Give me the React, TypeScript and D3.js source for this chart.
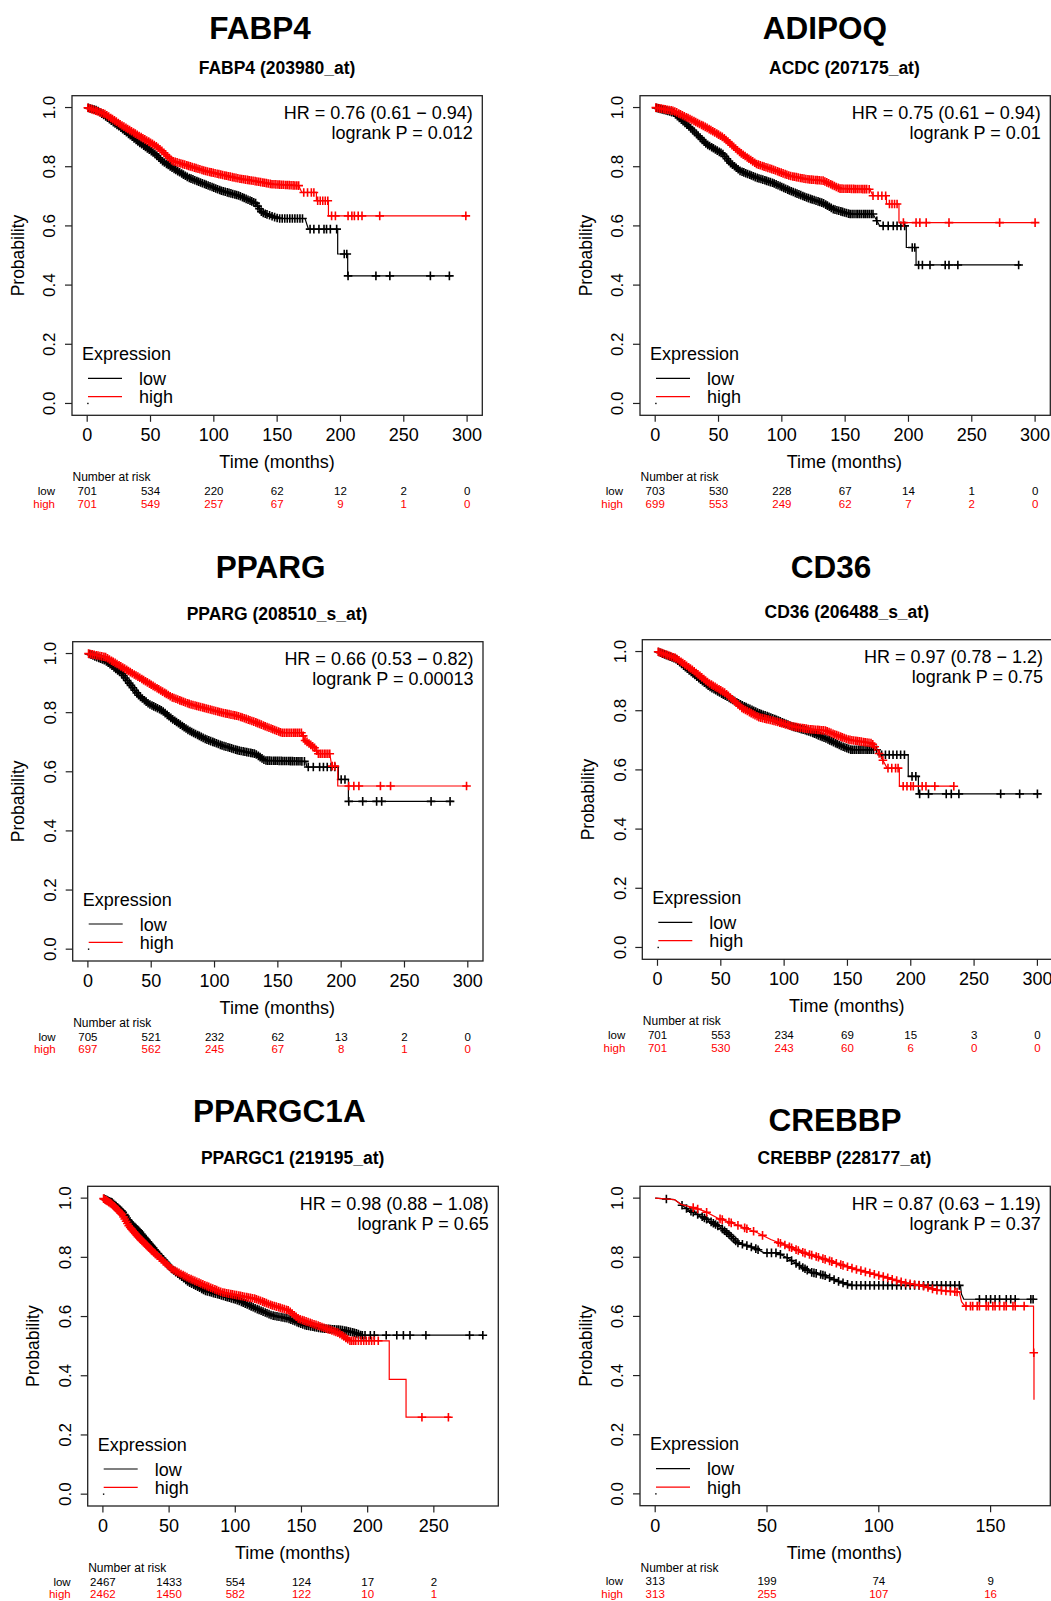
import React from 'react';
import * as d3 from 'd3';

type Pt = [number, number];

const FONT = "'Liberation Sans', Arial, Helvetica, sans-serif";
const LOW_COLOR = '#000000';
const HIGH_COLOR = '#ff0000';

// panel headings
const genes = ['FABP4', 'ADIPOQ', 'PPARG', 'CD36', 'PPARGC1A', 'CREBBP'];
const probes = ['FABP4 (203980_at)', 'ACDC (207175_at)', 'PPARG (208510_s_at)', 'CD36 (206488_s_at)', 'PPARGC1 (219195_at)', 'CREBBP (228177_at)'];
const hrLabels = ['HR = 0.76 (0.61 \u2212 0.94)', 'HR = 0.75 (0.61 \u2212 0.94)', 'HR = 0.66 (0.53 \u2212 0.82)', 'HR = 0.97 (0.78 \u2212 1.2)', 'HR = 0.98 (0.88 \u2212 1.08)', 'HR = 0.87 (0.63 \u2212 1.19)'];
const pLabels = ['logrank P = 0.012', 'logrank P = 0.01', 'logrank P = 0.00013', 'logrank P = 0.75', 'logrank P = 0.65', 'logrank P = 0.37'];

// x axis ticks (months)
const ticks300 = [0, 50, 100, 150, 200, 250, 300];
const ticks250 = [0, 50, 100, 150, 200, 250];
const ticks150 = [0, 50, 100, 150];
const yTicks = [0, 0.2, 0.4, 0.6, 0.8, 1.0];

// ---- FABP4 ----
const fabp4Low: Pt[] = [[0, 1], [8, 0.99], [14, 0.972], [28, 0.927], [41, 0.882], [54, 0.842], [59, 0.82], [67, 0.797], [80, 0.763], [93, 0.741], [106, 0.719], [120, 0.702], [133, 0.677], [138, 0.645], [151, 0.625], [172, 0.625], [174.7, 0.589], [197.8, 0.589], [197.8, 0.505], [205.7, 0.505], [205.7, 0.431], [287.6, 0.431]];
const fabp4High: Pt[] = [[0, 1], [14, 0.978], [28, 0.938], [41, 0.904], [54, 0.871], [59, 0.854], [67, 0.82], [80, 0.803], [93, 0.786], [106, 0.773], [120, 0.76], [133, 0.751], [146, 0.741], [167, 0.736], [169.5, 0.713], [181, 0.713], [181, 0.685], [190.5, 0.685], [190.5, 0.634], [300, 0.634]];
const fabp4LowCens = [1, 2.5, 4, 5.5, 7, 8.6, 10, 11.5, 13, 14.6, 16, 17.5, 19, 20.6, 22, 23.5, 25, 26.6, 28, 29.5, 31, 32.6, 34, 35.5, 37, 38.6, 40, 41.5, 43, 44.6, 46, 47.5, 49, 50.6, 52, 53.5, 55, 56.6, 58, 59.5, 61, 62.6, 64, 65.5, 67, 68.6, 70, 71.5, 73, 74.6, 76, 77.5, 79, 80.6, 82, 83.5, 85, 86.6, 88, 89.5, 91, 92.6, 94, 95.5, 97, 98.6, 100, 101.5, 103, 104.6, 106, 107.5, 109, 110.6, 112, 113.5, 115, 116.6, 118, 119.5, 121, 122.6, 124, 125.5, 127, 128.6, 130, 131.5, 133, 134.6, 136, 137.5, 139, 140.6, 142, 144, 146, 148, 150, 152, 154, 156, 158, 160, 162, 164, 166, 168, 170, 176, 179, 183, 187, 189, 192, 197, 203, 205, 206, 228, 239, 271, 286];
const fabp4HighCens = [0.5, 2, 3.5, 5, 6.6, 8, 9.5, 11, 12.6, 14, 15.5, 17, 18.6, 20, 21.5, 23, 24.6, 26, 27.5, 29, 30.6, 32, 33.5, 35, 36.6, 38, 39.5, 41, 42.6, 44, 45.5, 47, 48.6, 50, 51.5, 53, 54.6, 56, 57.5, 59, 60.6, 62, 63.5, 65, 66.6, 68, 69.5, 71, 72.6, 74, 75.5, 77, 78.6, 80, 81.5, 83, 84.6, 86, 87.5, 89, 90.6, 92, 93.5, 95, 96.6, 98, 99.5, 101, 102.6, 104, 105.5, 107, 108.6, 110, 111.5, 113, 114.6, 116, 117.5, 119, 120.6, 122, 123.5, 125, 126.6, 128, 129.5, 131, 132.6, 134, 135.5, 137, 138.6, 140, 141.5, 143, 144.6, 146, 147.5, 149, 150.6, 152, 153.5, 155, 156.6, 158, 159.5, 161, 162.6, 164, 165.5, 167, 171, 174, 177, 179, 182, 184, 186, 188, 190, 193, 196, 206, 209, 211, 214, 217, 231, 299];
const fabp4RiskLow = [701, 534, 220, 62, 12, 2, 0];
const fabp4RiskHigh = [701, 549, 257, 67, 9, 1, 0];

// ---- ADIPOQ ----
const adipoqLow: Pt[] = [[0, 1], [14.4, 0.983], [27.6, 0.932], [40.7, 0.876], [53.8, 0.842], [59, 0.814], [67, 0.786], [80.1, 0.763], [93.2, 0.745], [106.4, 0.719], [119.5, 0.696], [132.6, 0.677], [140.5, 0.657], [153.7, 0.64], [172, 0.64], [177.3, 0.6], [198.3, 0.6], [198.3, 0.527], [206, 0.527], [206, 0.468], [289, 0.468]];
const adipoqHigh: Pt[] = [[0, 1], [14.4, 0.989], [27.6, 0.961], [40.7, 0.932], [53.8, 0.899], [67, 0.848], [80.1, 0.809], [93.2, 0.79], [106.4, 0.769], [119.5, 0.758], [132.6, 0.753], [145.8, 0.726], [169.4, 0.724], [172, 0.702], [182.6, 0.702], [182.6, 0.674], [192.5, 0.674], [192.5, 0.611], [300, 0.611]];
const adipoqLowCens = [1, 2.5, 4, 5.5, 7, 8.6, 10, 11.5, 13, 14.6, 16, 17.5, 19, 20.6, 22, 23.5, 25, 26.6, 28, 29.5, 31, 32.6, 34, 35.5, 37, 38.6, 40, 41.5, 43, 44.6, 46, 47.5, 49, 50.6, 52, 53.5, 55, 56.6, 58, 59.5, 61, 62.6, 64, 65.5, 67, 68.6, 70, 71.5, 73, 74.6, 76, 77.5, 79, 80.6, 82, 83.5, 85, 86.6, 88, 89.5, 91, 92.6, 94, 95.5, 97, 98.6, 100, 101.5, 103, 104.6, 106, 107.5, 109, 110.6, 112, 113.5, 115, 116.6, 118, 119.5, 121, 122.6, 124, 125.5, 127, 128.6, 130, 131.5, 133, 134.6, 136, 137.5, 139, 140.6, 142, 143.5, 145, 146.6, 148, 149.5, 151, 152.6, 154, 155.5, 157, 158.6, 160, 161.5, 163, 164.6, 166, 167.5, 169, 170.6, 172, 175, 180, 184, 188, 191, 194, 197, 203, 205, 208, 211, 217, 229, 232, 239, 287];
const adipoqHighCens = [0.5, 2, 3.5, 5, 6.6, 8, 9.5, 11, 12.6, 14, 15.5, 17, 18.6, 20, 21.5, 23, 24.6, 26, 27.5, 29, 30.6, 32, 33.5, 35, 36.6, 38, 39.5, 41, 42.6, 44, 45.5, 47, 48.6, 50, 51.5, 53, 54.6, 56, 57.5, 59, 60.6, 62, 63.5, 65, 66.6, 68, 69.5, 71, 72.6, 74, 75.5, 77, 78.6, 80, 81.5, 83, 84.6, 86, 87.5, 89, 90.6, 92, 93.5, 95, 96.6, 98, 99.5, 101, 102.6, 104, 105.5, 107, 108.6, 110, 111.5, 113, 114.6, 116, 117.5, 119, 120.6, 122, 123.5, 125, 126.6, 128, 129.5, 131, 132.6, 134, 135.5, 137, 138.6, 140, 141.5, 143, 144.6, 146, 147.5, 149, 150.6, 152, 153.5, 155, 156.6, 158, 159.5, 161, 162.6, 164, 165.5, 167, 169, 172, 176, 179, 182, 185, 187, 189, 191, 196, 206, 209, 214, 232, 272, 300];
const adipoqRiskLow = [703, 530, 228, 67, 14, 1, 0];
const adipoqRiskHigh = [699, 553, 249, 62, 7, 2, 0];

// ---- PPARG ----
const ppargLow: Pt[] = [[0, 1], [13.9, 0.976], [27, 0.931], [40.2, 0.858], [48, 0.83], [58.6, 0.807], [66.4, 0.779], [79.6, 0.74], [92.7, 0.711], [105.9, 0.689], [119, 0.672], [132.1, 0.661], [140, 0.638], [172, 0.635], [172.9, 0.616], [197.8, 0.616], [197.8, 0.574], [205.7, 0.574], [205.7, 0.5], [288.5, 0.5]];
const ppargHigh: Pt[] = [[0, 1], [13.9, 0.988], [27, 0.954], [40.2, 0.92], [53.3, 0.886], [66.4, 0.852], [79.6, 0.83], [92.7, 0.815], [105.9, 0.8], [119, 0.788], [132.1, 0.768], [145.3, 0.745], [153, 0.732], [169, 0.732], [171.5, 0.706], [179.4, 0.68], [182, 0.661], [191, 0.661], [192.6, 0.619], [197.3, 0.619], [197.3, 0.552], [300, 0.552]];
const ppargLowCens = [1, 2.5, 4, 5.5, 7, 8.6, 10, 11.5, 13, 14.6, 16, 17.5, 19, 20.6, 22, 23.5, 25, 26.6, 28, 29.5, 31, 32.6, 34, 35.5, 37, 38.6, 40, 41.5, 43, 44.6, 46, 47.5, 49, 50.6, 52, 53.5, 55, 56.6, 58, 59.5, 61, 62.6, 64, 65.5, 67, 68.6, 70, 71.5, 73, 74.6, 76, 77.5, 79, 80.6, 82, 83.5, 85, 86.6, 88, 89.5, 91, 92.6, 94, 95.5, 97, 98.6, 100, 101.5, 103, 104.6, 106, 107.5, 109, 110.6, 112, 113.5, 115, 116.6, 118, 119.5, 121, 122.6, 124, 125.5, 127, 128.6, 130, 131.5, 133, 134.6, 136, 137.5, 139, 140.6, 142, 143.5, 145, 146.6, 148, 149.5, 151, 152.6, 154, 155.5, 157, 158.6, 160, 161.5, 163, 164.6, 166, 167.5, 169, 171, 174, 178, 183, 186, 189, 192, 195, 200, 203, 206, 217, 228, 232, 271, 286];
const ppargHighCens = [0.5, 2, 3.5, 5, 6.6, 8, 9.5, 11, 12.6, 14, 15.5, 17, 18.6, 20, 21.5, 23, 24.6, 26, 27.5, 29, 30.6, 32, 33.5, 35, 36.6, 38, 39.5, 41, 42.6, 44, 45.5, 47, 48.6, 50, 51.5, 53, 54.6, 56, 57.5, 59, 60.6, 62, 63.5, 65, 66.6, 68, 69.5, 71, 72.6, 74, 75.5, 77, 78.6, 80, 81.5, 83, 84.6, 86, 87.5, 89, 90.6, 92, 93.5, 95, 96.6, 98, 99.5, 101, 102.6, 104, 105.5, 107, 108.6, 110, 111.5, 113, 114.6, 116, 117.5, 119, 120.6, 122, 123.5, 125, 126.6, 128, 129.5, 131, 132.6, 134, 135.5, 137, 138.6, 140, 141.5, 143, 144.6, 146, 147.5, 149, 150.6, 152, 153.5, 155, 156.6, 158, 159.5, 161, 162.6, 164, 165.5, 167, 168.6, 170, 171.5, 173, 174.6, 176, 177.5, 179, 180.6, 182, 183.5, 185, 186.6, 188, 189.5, 191, 193, 195, 206, 210, 214, 231, 239, 299];
const ppargRiskLow = [705, 521, 232, 62, 13, 2, 0];
const ppargRiskHigh = [697, 562, 245, 67, 8, 1, 0];

// ---- CD36 ----
const cd36Low: Pt[] = [[0, 1], [14.4, 0.975], [27.6, 0.927], [40.7, 0.882], [53.8, 0.85], [67, 0.818], [80.1, 0.792], [93.2, 0.771], [106.4, 0.747], [119.5, 0.73], [132.6, 0.707], [146, 0.679], [153, 0.668], [175, 0.668], [176, 0.651], [198, 0.651], [198, 0.578], [206, 0.578], [206, 0.519], [300, 0.519]];
const cd36High: Pt[] = [[0, 1], [14.4, 0.978], [27.6, 0.938], [40.7, 0.893], [53.8, 0.859], [67, 0.808], [80.1, 0.778], [93.2, 0.764], [106.4, 0.747], [119.5, 0.738], [132.6, 0.733], [140.5, 0.719], [151, 0.702], [169.4, 0.69], [173.4, 0.668], [177.3, 0.638], [181.3, 0.606], [191, 0.606], [191, 0.545], [234, 0.545]];
const cd36LowCens = [1, 2.5, 4, 5.5, 7, 8.6, 10, 11.5, 13, 14.6, 16, 17.5, 19, 20.6, 22, 23.5, 25, 26.6, 28, 29.5, 31, 32.6, 34, 35.5, 37, 38.6, 40, 41.5, 43, 44.6, 46, 47.5, 49, 50.6, 52, 53.5, 55, 56.6, 58, 59.5, 61, 62.6, 64, 65.5, 67, 68.6, 70, 71.5, 73, 74.6, 76, 77.5, 79, 80.6, 82, 83.5, 85, 86.6, 88, 89.5, 91, 92.6, 94, 95.5, 97, 98.6, 100, 101.5, 103, 104.6, 106, 107.5, 109, 110.6, 112, 113.5, 115, 116.6, 118, 119.5, 121, 122.6, 124, 125.5, 127, 128.6, 130, 131.5, 133, 134.6, 136, 137.5, 139, 140.6, 142, 143.5, 145, 146.6, 148, 149.5, 151, 152.6, 154, 155.5, 157, 158.6, 160, 161.5, 163, 164.6, 166, 167.5, 169, 170.6, 173, 177, 180, 183, 186, 189, 192, 195, 201, 204, 207, 214, 228, 232, 238, 271, 286, 300];
const cd36HighCens = [0.5, 2, 3.5, 5, 6.6, 8, 9.5, 11, 12.6, 14, 15.5, 17, 18.6, 20, 21.5, 23, 24.6, 26, 27.5, 29, 30.6, 32, 33.5, 35, 36.6, 38, 39.5, 41, 42.6, 44, 45.5, 47, 48.6, 50, 51.5, 53, 54.6, 56, 57.5, 59, 60.6, 62, 63.5, 65, 66.6, 68, 69.5, 71, 72.6, 74, 75.5, 77, 78.6, 80, 81.5, 83, 84.6, 86, 87.5, 89, 90.6, 92, 93.5, 95, 96.6, 98, 99.5, 101, 102.6, 104, 105.5, 107, 108.6, 110, 111.5, 113, 114.6, 116, 117.5, 119, 120.6, 122, 123.5, 125, 126.6, 128, 129.5, 131, 132.6, 134, 135.5, 137, 138.6, 140, 141.5, 143, 144.6, 146, 147.5, 149, 150.6, 152, 153.5, 155, 156.6, 158, 159.5, 161, 162.6, 164, 165.5, 167, 168.6, 170, 171.5, 175, 178, 182, 185, 188, 190, 194, 197, 200, 202, 209, 212, 219, 234];
const cd36RiskLow = [701, 553, 234, 69, 15, 3, 0];
const cd36RiskHigh = [701, 530, 243, 60, 6, 0, 0];

// ---- PPARGC1A ----
const pgcLow: Pt[] = [[0, 1], [7, 0.985], [14.5, 0.955], [20, 0.92], [27.1, 0.889], [39.7, 0.822], [52.2, 0.76], [64.8, 0.716], [77.4, 0.687], [89.9, 0.671], [102.5, 0.654], [115.1, 0.628], [127.6, 0.604], [140.2, 0.593], [152.8, 0.57], [165.3, 0.56], [180.4, 0.555], [190.5, 0.545], [195, 0.537], [287.2, 0.537]];
const pgcHigh: Pt[] = [[0, 1], [7, 0.979], [14.5, 0.945], [19.6, 0.906], [27.1, 0.867], [39.7, 0.811], [52.2, 0.76], [64.8, 0.73], [77.4, 0.705], [89.9, 0.682], [102.5, 0.671], [115.1, 0.66], [127.6, 0.638], [140.2, 0.621], [147.7, 0.593], [165.3, 0.565], [177.9, 0.545], [186.7, 0.518], [216.3, 0.518], [216.3, 0.388], [229, 0.388], [229, 0.26], [262.8, 0.26]];
const pgcLowCens = [1, 2, 3, 4, 5, 6.2, 7, 8, 9, 10, 11.2, 12, 13, 14, 15, 16.2, 17, 18, 19, 20, 21.2, 22, 23, 24, 25, 26.2, 27, 28, 29, 30, 31.2, 32, 33, 34, 35, 36.2, 37, 38, 39, 40, 41.5, 43, 44.6, 46, 47.5, 49, 50.6, 52, 53.5, 55, 56.6, 58, 59.5, 61, 62.6, 64, 65.5, 67, 68.6, 70, 71.5, 73, 74.6, 76, 77.5, 79, 80.6, 82, 83.5, 85, 86.6, 88, 89.5, 91, 92.6, 94, 95.5, 97, 98.6, 100, 101.5, 103, 104.6, 106, 107.5, 109, 110.6, 112, 113.5, 115, 116.6, 118, 119.5, 121, 122.6, 124, 125.5, 127, 128.6, 130, 131.5, 133, 134.6, 136, 137.5, 139, 140.6, 142, 143.5, 145, 146.6, 148, 149.5, 151, 152.6, 154, 155.5, 157, 158.6, 160, 161.5, 163, 164.6, 166, 167.5, 169, 170.6, 172, 173.5, 175, 176.6, 178, 179.5, 181, 182.6, 184, 185.5, 187, 188.6, 190, 191.5, 193, 194.6, 196, 198, 202, 205, 214, 222, 227, 232, 244, 277, 287];
const pgcHighCens = [0.5, 1.5, 2.5, 3.5, 4.5, 5.6, 6.5, 7.5, 8.5, 9.5, 10.6, 11.5, 12.5, 13.5, 14.5, 15.6, 16.5, 17.5, 18.5, 19.5, 20.6, 21.5, 22.5, 23.5, 24.5, 25.6, 26.5, 27.5, 28.5, 29.5, 30.6, 31.5, 32.5, 33.5, 34.5, 35.6, 36.5, 37.5, 38.5, 39.5, 41, 42.6, 44, 45.5, 47, 48.6, 50, 51.5, 53, 54.6, 56, 57.5, 59, 60.6, 62, 63.5, 65, 66.6, 68, 69.5, 71, 72.6, 74, 75.5, 77, 78.6, 80, 81.5, 83, 84.6, 86, 87.5, 89, 90.6, 92, 93.5, 95, 96.6, 98, 99.5, 101, 102.6, 104, 105.5, 107, 108.6, 110, 111.5, 113, 114.6, 116, 117.5, 119, 120.6, 122, 123.5, 125, 126.6, 128, 129.5, 131, 132.6, 134, 135.5, 137, 138.6, 140, 141.5, 143, 144.6, 146, 147.5, 149, 150.6, 152, 153.5, 155, 156.6, 158, 159.5, 161, 162.6, 164, 165.5, 167, 168.6, 170, 171.5, 173, 174.6, 176, 177.5, 179, 180.6, 182, 183.5, 185, 186.6, 188, 189.5, 191, 193, 195, 197, 199, 201, 203, 205, 208, 241, 261];
const pgcRiskLow = [2467, 1433, 554, 124, 17, 2];
const pgcRiskHigh = [2462, 1450, 582, 122, 10, 1];

// ---- CREBBP ----
const crebbpLow: Pt[] = [[0, 1], [8.6, 0.995], [11.5, 0.979], [14.5, 0.962], [22, 0.933], [29.4, 0.9], [33.8, 0.872], [36.8, 0.849], [44.3, 0.832], [48.7, 0.815], [54.6, 0.815], [59.1, 0.798], [63.6, 0.776], [69.5, 0.75], [75.5, 0.739], [81.4, 0.72], [87.4, 0.705], [136.5, 0.705], [137, 0.675], [138, 0.658], [169.9, 0.658]];
const crebbpHigh: Pt[] = [[0, 1], [8.6, 0.995], [11.5, 0.979], [17.5, 0.967], [22, 0.956], [27.9, 0.933], [33.8, 0.917], [39.8, 0.9], [45.7, 0.883], [51.7, 0.86], [59.1, 0.838], [66.6, 0.815], [74, 0.798], [81.4, 0.779], [88.9, 0.761], [96.3, 0.746], [103.7, 0.731], [111.2, 0.714], [118.6, 0.705], [126, 0.689], [136, 0.682], [137, 0.65], [138.5, 0.635], [169.2, 0.635], [169.2, 0.477], [169.4, 0.477], [169.4, 0.318]];
const crebbpLowCens = [5, 12, 14, 16, 17, 19, 21, 22, 23, 25, 26, 27, 28, 30, 31, 32, 33, 34, 35, 36, 37, 39, 41, 43, 45, 46, 50, 52, 54, 56, 59, 61, 63, 64.5, 66, 67, 68, 70, 71, 72, 74, 75, 76, 78, 80, 82, 84, 86, 88, 90, 92, 94, 96, 98, 100, 102, 104, 106, 108, 110, 112, 114, 116, 118, 120, 122, 124, 126, 128, 130, 132, 134, 136, 145, 148, 150, 152, 154, 157, 159, 161, 168, 169];
const crebbpHighCens = [17, 19, 23, 29, 30, 33, 34, 37, 40, 41, 44, 48, 55, 56, 58, 60, 61, 63, 64, 66, 67, 69, 70, 72, 73, 75, 76, 78, 79, 81, 83, 84, 86, 88, 90, 92, 94, 96, 98, 100, 102, 104, 106, 108, 110, 112, 114, 116, 118, 120, 122, 124, 126, 128, 130, 132, 134, 135, 139, 141, 142, 144, 145, 148, 149, 151, 152, 154, 156, 157, 160, 161, 165, 169.3];
const crebbpRiskLow = [313, 199, 74, 9];
const crebbpRiskHigh = [313, 255, 107, 16];

// layout of the six panels (plot box + headings)
const layout = [
  { box: { l: 72, t: 95.7, r: 482.3, b: 415.3 }, xMax: 300, title: [260, 39], sub: [277, 74], timeX: 277 },
  { box: { l: 640, t: 95.7, r: 1050.3, b: 415.3 }, xMax: 300, title: [825, 39], sub: [844.4, 74], timeX: 844.4 },
  { box: { l: 72.7, t: 641.7, r: 483, b: 961 }, xMax: 300, title: [270.7, 578], sub: [277, 620], timeX: 277.3 },
  { box: { l: 642.3, t: 639.7, r: 1052.6, b: 959.3 }, xMax: 300, title: [831, 577.7], sub: [846.8, 618], timeX: 846.8 },
  { box: { l: 87.7, t: 1186.3, r: 498.3, b: 1506 }, xMax: 287.2, title: [279.3, 1121.7], sub: [292.7, 1164], timeX: 292.7 },
  { box: { l: 640, t: 1186.3, r: 1050.3, b: 1505.7 }, xMax: 169.9, title: [835, 1130.7], sub: [844.4, 1164], timeX: 844.4 },
];

const panels = [
  { low: fabp4Low, high: fabp4High, lowCens: fabp4LowCens, highCens: fabp4HighCens, ticks: ticks300, riskLow: fabp4RiskLow, riskHigh: fabp4RiskHigh },
  { low: adipoqLow, high: adipoqHigh, lowCens: adipoqLowCens, highCens: adipoqHighCens, ticks: ticks300, riskLow: adipoqRiskLow, riskHigh: adipoqRiskHigh },
  { low: ppargLow, high: ppargHigh, lowCens: ppargLowCens, highCens: ppargHighCens, ticks: ticks300, riskLow: ppargRiskLow, riskHigh: ppargRiskHigh },
  { low: cd36Low, high: cd36High, lowCens: cd36LowCens, highCens: cd36HighCens, ticks: ticks300, riskLow: cd36RiskLow, riskHigh: cd36RiskHigh },
  { low: pgcLow, high: pgcHigh, lowCens: pgcLowCens, highCens: pgcHighCens, ticks: ticks250, riskLow: pgcRiskLow, riskHigh: pgcRiskHigh },
  { low: crebbpLow, high: crebbpHigh, lowCens: crebbpLowCens, highCens: crebbpHighCens, ticks: ticks150, riskLow: crebbpRiskLow, riskHigh: crebbpRiskHigh },
];

// survival value on the drawn curve at time t
function survAt(pts: Pt[], t: number) {
  for (let i = 0; i < pts.length - 1; i++) {
    const [t0, s0] = pts[i];
    const [t1, s1] = pts[i + 1];
    if (t1 > t0 && t >= t0 && t <= t1) return s0 + ((s1 - s0) * (t - t0)) / (t1 - t0);
  }
  return pts[pts.length - 1][1];
}

const KMPanel = ({ i }: { i: number }) => {
  const L = layout[i];
  const d = panels[i];
  const { l, t, r, b } = L.box;

  // R style axes: 4% padding on both ends
  const x = d3.scaleLinear().domain([-0.04 * L.xMax, 1.04 * L.xMax]).range([l, r]);
  const y = d3.scaleLinear().domain([-0.04, 1.04]).range([b, t]);

  const line = d3
    .line<Pt>()
    .x((p) => x(p[0]))
    .y((p) => y(p[1]));

  // censoring crosses
  const marks = (pts: Pt[], cens: number[]) =>
    cens
      .map((c) => {
        const cx = x(c);
        const cy = y(survAt(pts, c));
        return `M${cx - 4.3},${cy}h8.6M${cx},${cy - 4.3}v8.6`;
      })
      .join('');

  return (
    <g>
      <text x={L.title[0]} y={L.title[1]} textAnchor="middle" fontSize={31.5} fontWeight="bold">
        {genes[i]}
      </text>
      <text x={L.sub[0]} y={L.sub[1]} textAnchor="middle" fontSize={17.5} fontWeight="bold">
        {probes[i]}
      </text>

      {/* curves */}
      <path d={line(d.low) || ''} fill="none" stroke={LOW_COLOR} strokeWidth={1.2} />
      <path d={marks(d.low, d.lowCens)} fill="none" stroke={LOW_COLOR} strokeWidth={1.6} />
      <path d={line(d.high) || ''} fill="none" stroke={HIGH_COLOR} strokeWidth={1.2} />
      <path d={marks(d.high, d.highCens)} fill="none" stroke={HIGH_COLOR} strokeWidth={1.6} />

      <rect x={l} y={t} width={r - l} height={b - t} fill="none" stroke="#222" strokeWidth={1.3} />

      {/* y axis */}
      {yTicks.map((v) => (
        <g key={'y' + v}>
          <line x1={l - 7} x2={l} y1={y(v)} y2={y(v)} stroke="#222" strokeWidth={1.2} />
          <text transform={`translate(${l - 16.7},${y(v)}) rotate(-90)`} textAnchor="middle" fontSize={17}>
            {v.toFixed(1)}
          </text>
        </g>
      ))}
      <text transform={`translate(${l - 48.5},${(y(0) + y(1)) / 2}) rotate(-90)`} textAnchor="middle" fontSize={17.5}>
        Probability
      </text>

      {/* x axis */}
      {d.ticks.map((v) => (
        <g key={'x' + v}>
          <line x1={x(v)} x2={x(v)} y1={b} y2={b + 6.5} stroke="#222" strokeWidth={1.2} />
          <text x={x(v)} y={b + 26} textAnchor="middle" fontSize={18}>
            {v}
          </text>
        </g>
      ))}
      <text x={L.timeX} y={b + 53} textAnchor="middle" fontSize={18}>
        Time (months)
      </text>

      {/* hazard ratio */}
      <text x={r - 9.5} y={t + 23.3} textAnchor="end" fontSize={18}>
        {hrLabels[i]}
      </text>
      <text x={r - 9.5} y={t + 43.3} textAnchor="end" fontSize={18}>
        {pLabels[i]}
      </text>

      {/* legend */}
      <text x={l + 10} y={b - 55.3} fontSize={18}>
        Expression
      </text>
      <line x1={l + 16} x2={l + 50} y1={b - 37} y2={b - 37} stroke={LOW_COLOR} strokeWidth={1.2} />
      <line x1={l + 16} x2={l + 50} y1={b - 18.6} y2={b - 18.6} stroke={HIGH_COLOR} strokeWidth={1.2} />
      <text x={l + 67} y={b - 30.3} fontSize={18}>
        low
      </text>
      <text x={l + 67} y={b - 12} fontSize={18}>
        high
      </text>
      <rect x={x(0)} y={y(0) - 0.7} width={1.4} height={1.4} fill="#000" />

      {/* number at risk */}
      <text x={l + 0.5} y={b + 66} fontSize={12}>
        Number at risk
      </text>
      <text x={l - 17} y={b + 79.6} textAnchor="end" fontSize={11.5} fill={LOW_COLOR}>
        low
      </text>
      <text x={l - 17} y={b + 92.3} textAnchor="end" fontSize={11.5} fill={HIGH_COLOR}>
        high
      </text>
      {d.ticks.map((v, k) =>
        d.riskLow[k] === undefined ? null : (
          <g key={'r' + v}>
            <text x={x(v)} y={b + 79.6} textAnchor="middle" fontSize={11.5} fill={LOW_COLOR}>
              {d.riskLow[k]}
            </text>
            <text x={x(v)} y={b + 92.3} textAnchor="middle" fontSize={11.5} fill={HIGH_COLOR}>
              {d.riskHigh[k]}
            </text>
          </g>
        ),
      )}
    </g>
  );
};

export default function App() {
  return (
    <svg
      width={1051}
      height={1601}
      style={{ position: 'absolute', left: 0, top: 0, display: 'block', background: '#fff' }}
      fontFamily={FONT}
    >
      <rect x={0} y={0} width={1051} height={1601} fill="#fff" />
      {layout.map((_, i) => (
        <KMPanel key={i} i={i} />
      ))}
    </svg>
  );
}
